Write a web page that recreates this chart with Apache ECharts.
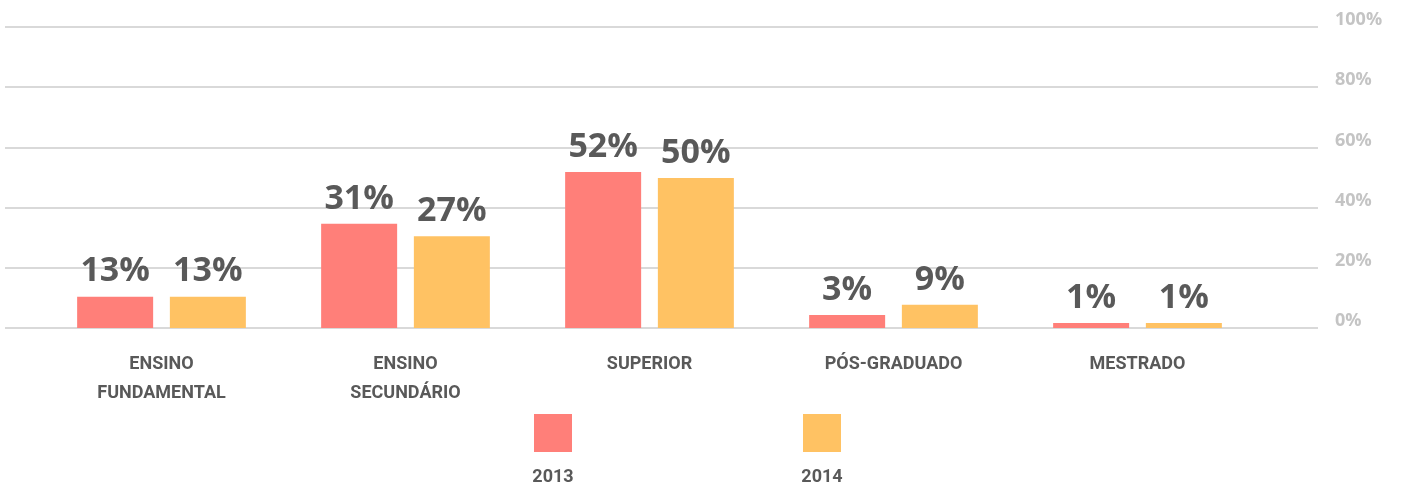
<!DOCTYPE html>
<html>
<head>
<meta charset="utf-8">
<script src="https://cdn.jsdelivr.net/npm/echarts@6/dist/echarts.min.js"></script>
<style>
  html, body { margin: 0; padding: 0; background: #fff; }
  #main { width: 1401px; height: 492px; }
</style>
</head>
<body>
<div id="main"></div>
<script>
// categorias e valores
var categories = ['ENSINO\nFUNDAMENTAL', 'ENSINO\nSECUNDÁRIO', 'SUPERIOR', 'PÓS-GRADUADO', 'MESTRADO'];
var years = ['2013', '2014'];
var bars2013 = [10.4, 34.6, 51.8, 4.3, 1.7];
var bars2014 = [10.4, 30.5, 49.8, 7.7, 1.7];
var labels2013 = [13, 31, 52, 3, 1];
var labels2014 = [13, 27, 50, 9, 1];
var yTicks = [0, 20, 40, 60, 80, 100];

var colors = ['#ff7f79', '#ffc263'];
var dark = '#595959';
var narrow = 'Roboto, sans-serif';

var myChart = echarts.init(document.getElementById('main'));

function barLabel(list) {
	return {
		show: true,
		position: 'top',
		distance: 8,
		color: dark,
		fontFamily: '"Open Sans", sans-serif',
		fontWeight: 'bold',
		fontSize: 34,
		formatter: function (p) {
			return list[p.dataIndex] + '%';
		}
	};
}

var legendBase = {
	top: 414,
	padding: 0,
	icon: 'rect',
	itemWidth: 38,
	itemHeight: 38,
	selectedMode: false,
	formatter: function () { return ''; }
};

var option = {
	animation: false,
	grid: [
		{ left: 5, right: 83, top: 27, bottom: 164 },
		{ left: 39.5, right: 141.5, top: 27, bottom: 164 }
	],
	xAxis: [
		{ gridIndex: 0, type: 'category', data: [''], show: false },
		{
			gridIndex: 1,
			type: 'category',
			data: categories,
			axisLine: { show: false },
			axisTick: { show: false },
			axisLabel: {
				interval: 0,
				margin: 22,
				color: dark,
				fontFamily: narrow,
				fontWeight: 'bold',
				fontSize: 18,
				lineHeight: 29
			}
		}
	],
	yAxis: [
		{
			gridIndex: 0,
			type: 'value',
			position: 'right',
			min: yTicks[0],
			max: yTicks[yTicks.length - 1],
			interval: 20,
			axisLine: { show: false },
			axisTick: { show: false },
			splitLine: { lineStyle: { color: '#cccccc', width: 1.5 } },
			axisLabel: {
				margin: 17,
				color: '#c4c4c4',
				fontFamily: '"Open Sans", sans-serif',
				fontWeight: 'bold',
				fontSize: 18,
				verticalAlign: 'bottom',
				lineHeight: 14,
				formatter: '{value}%'
			}
		},
		{ gridIndex: 1, type: 'value', min: 0, max: 100, show: false }
	],
	legend: [
		Object.assign({ data: [years[0]], left: 534 }, legendBase),
		Object.assign({ data: [years[1]], left: 803 }, legendBase)
	],
	graphic: [
		{ type: 'text', style: { text: years[0], fill: dark, font: 'bold 18px ' + narrow, textAlign: 'center', x: 553, y: 468 } },
		{ type: 'text', style: { text: years[1], fill: dark, font: 'bold 18px ' + narrow, textAlign: 'center', x: 822, y: 468 } }
	],
	series: [
		{
			name: years[0],
			type: 'bar',
			xAxisIndex: 1,
			yAxisIndex: 1,
			barWidth: 76,
			barGap: '22%',
			itemStyle: { color: colors[0] },
			label: barLabel(labels2013),
			data: bars2013
		},
		{
			name: years[1],
			type: 'bar',
			xAxisIndex: 1,
			yAxisIndex: 1,
			barWidth: 76,
			barGap: '22%',
			itemStyle: { color: colors[1] },
			label: barLabel(labels2014),
			data: bars2014
		}
	]
};

myChart.setOption(option);
</script>
</body>
</html>
